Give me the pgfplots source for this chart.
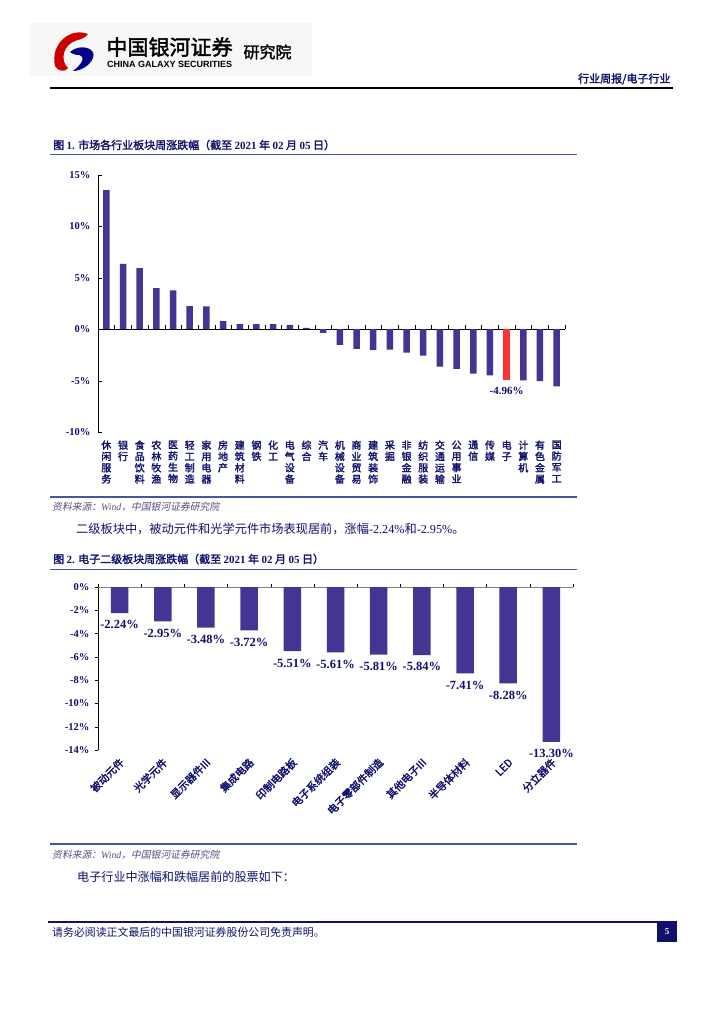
\documentclass[border=0pt]{standalone}
\usepackage{pgfplots}
\pgfplotsset{compat=1.18}
\usepackage{fontspec}
\usepackage{graphicx}
\setmainfont{Liberation Serif}
\newfontfamily\cjk{Noto Sans CJK SC}[AutoFakeBold=2,AutoFakeSlant=0.2]
\newfontfamily\hei{Liberation Sans}
\newcommand\la[1]{{\rmfamily #1}}
\definecolor{barblue}{RGB}{67,53,148}
\definecolor{barred}{RGB}{255,51,51}
\definecolor{navy}{RGB}{16,16,110}
\definecolor{rulec}{RGB}{70,85,165}
\definecolor{srcc}{RGB}{80,80,130}

\begin{document}
\begin{tikzpicture}
\begin{scope}[x=1pt,y=-1pt]
\path[use as bounding box] (0,0) rectangle (724,1024);
\fill[white] (0,0) rectangle (724,1024);

% header
\fill[gray!6] (30,23) rectangle (312,76);
\fill[red!80!black] (88,34) .. controls (70,27) and (50,44) .. (55,66)
  .. controls (58,72) and (66,72) .. (68,68)
  .. controls (60,61) and (62,44) .. (78,40)
  .. controls (82,39) and (86,37) .. (88,34);
\fill[blue!55!black] (70,52) .. controls (80,43) and (97,48) .. (93,58)
  .. controls (90,66) and (80,71) .. (73,71)
  .. controls (82,64) and (86,57) .. (79,55)
  .. controls (76,55) and (72,54) .. (70,52);
\node[anchor=west, font=\cjk\bfseries\fontsize{21}{21}\selectfont] at (103,47) {中国银河证券};
\node[anchor=west, inner sep=0] at (107,64) {\resizebox{125pt}{!}{\hei\bfseries CHINA GALAXY SECURITIES}};
\node[anchor=west, font=\cjk\bfseries\fontsize{16}{16}\selectfont] at (240,52) {研究院};
\node[anchor=east, font=\cjk\bfseries\fontsize{11}{11}\selectfont, text=navy] at (674,79) {行业周报/电子行业};
\draw[line width=1.5pt] (50,88) -- (673,88);

% figure 1 frame
\node[anchor=west, inner sep=0, font=\cjk\bfseries\fontsize{11}{11}\selectfont, text=navy] at (53,145)
  {图 \la{1.} 市场各行业板块周涨跌幅（截至 \la{2021} 年 \la{02} 月 \la{05} 日）};
\draw[rulec, line width=1.6pt] (50,154.5) -- (577,154.5);
\draw[rulec, line width=1.6pt] (50,497) -- (577,497);
\node[anchor=west, inner sep=0, font=\cjk\itshape\fontsize{9.8}{10}\selectfont, text=srcc] at (52,507)
  {资料来源：\la{Wind}，中国银河证券研究院};
\node[anchor=west, inner sep=0, font=\cjk\fontsize{12.2}{12.5}\selectfont, text=navy] at (76,529)
  {二级板块中，被动元件和光学元件市场表现居前，涨幅\la{-2.24\%}和\la{-2.95\%}。};

% figure 2 frame
\node[anchor=west, inner sep=0, font=\cjk\bfseries\fontsize{11}{11}\selectfont, text=navy] at (53,559)
  {图 \la{2.} 电子二级板块周涨跌幅（截至 \la{2021} 年 \la{02} 月 \la{05} 日）};
\draw[rulec, line width=1.6pt] (50,569.5) -- (577,569.5);
\draw[rulec, line width=1.6pt] (50,844) -- (577,844);
\node[anchor=west, inner sep=0, font=\cjk\itshape\fontsize{9.8}{10}\selectfont, text=srcc] at (52,855)
  {资料来源：\la{Wind}，中国银河证券研究院};
\node[anchor=west, inner sep=0, font=\cjk\fontsize{12.1}{12.5}\selectfont, text=navy] at (77,877)
  {电子行业中涨幅和跌幅居前的股票如下：};

% footer
\draw[navy, line width=1.5pt] (48,922) -- (677,922);
\node[anchor=west, inner sep=0, font=\cjk\fontsize{10.9}{11}\selectfont, text=navy] at (52,932)
  {请务必阅读正文最后的中国银河证券股份公司免责声明。};
\fill[navy] (657,922) rectangle (677,942);
\node[text=white, font=\bfseries\fontsize{9}{9}\selectfont] at (667,932) {5};
\end{scope}

% chart 1
\begin{axis}[
  at={(98pt,-432pt)}, anchor=south west,
  scale only axis, width=467pt, height=257pt,
  ymin=-10, ymax=15, xmin=-0.5, xmax=27.5,
  axis lines=left, axis line style={-, black},
  x axis line style={draw=none},
  ybar, bar width=6.5pt, bar shift=0pt,
  ytick={-10,-5,0,5,10,15},
  yticklabels={-10\%,-5\%,0\%,5\%,10\%,15\%},
  yticklabel style={font=\bfseries\fontsize{10.5}{12}\selectfont, text=navy, xshift=-4pt},
  tick align=inside, major tick length=4pt,
  ytick style={black},
  xtick={0,...,27},
  xticklabels={{休\\闲\\服\\务},{银\\行},{食\\品\\饮\\料},{农\\林\\牧\\渔},{医\\药\\生\\物},{轻\\工\\制\\造},{家\\用\\电\\器},{房\\地\\产},{建\\筑\\材\\料},{钢\\铁},{化\\工},{电\\气\\设\\备},{综\\合},{汽\\车},{机\\械\\设\\备},{商\\业\\贸\\易},{建\\筑\\装\\饰},{采\\掘},{非\\银\\金\\融},{纺\\织\\服\\装},{交\\通\\运\\输},{公\\用\\事\\业},{通\\信},{传\\媒},{电\\子},{计\\算\\机},{有\\色\\金\\属},{国\\防\\军\\工}},
  xticklabel style={anchor=north, align=center, font=\cjk\bfseries\fontsize{10}{11.3}\selectfont, text=navy, yshift=-5pt},
  x tick style={draw=none},
  clip=false,
]
\draw[black] (axis cs:-0.5,0) -- (axis cs:27.5,0);
\pgfplotsinvokeforeach{-0.5,0.5,...,27.5}{\draw[black] (axis cs:#1,0) -- ([yshift=4pt]axis cs:#1,0);}
\addplot[fill=barblue, draw=none] coordinates {
  (0,13.54) (1,6.36) (2,5.94) (3,3.99) (4,3.77) (5,2.24) (6,2.21) (7,0.78)
  (8,0.49) (9,0.49) (10,0.49) (11,0.42) (12,0.13) (13,-0.36) (14,-1.53)
  (15,-1.92) (16,-2.01) (17,-1.98) (18,-2.27) (19,-2.56) (20,-3.64)
  (21,-3.86) (22,-4.32) (23,-4.48) (25,-4.97) (26,-5.06) (27,-5.55)
};
\addplot[fill=barred, draw=none, nodes near coords={-4.96\%},
  every node near coord/.append style={font=\bfseries\fontsize{11}{12}\selectfont, text=navy, anchor=north, yshift=-3pt}]
  coordinates {(24,-4.96)};
\end{axis}

% chart 2
\begin{axis}[
  at={(98pt,-750pt)}, anchor=south west,
  scale only axis, width=475pt, height=163pt,
  ymin=-14, ymax=0, xmin=-0.5, xmax=10.5,
  axis lines=left, axis line style={-, black},
  x axis line style={draw=none},
  ybar, bar width=17.5pt, bar shift=0pt,
  ytick={-14,-12,...,0},
  yticklabels={-14\%,-12\%,-10\%,-8\%,-6\%,-4\%,-2\%,0\%},
  yticklabel style={font=\bfseries\fontsize{10.5}{12}\selectfont, text=navy, xshift=-2pt},
  tick align=outside, major tick length=3pt,
  ytick style={black},
  xtick={0,...,10},
  xticklabels={被动元件,光学元件,显示器件III,集成电路,印制电路板,电子系统组装,电子零部件制造,其他电子III,半导体材料,LED,分立器件},
  xticklabel style={rotate=45, anchor=east, font=\cjk\bfseries\fontsize{10.5}{11}\selectfont, text=navy, yshift=-7pt},
  x tick style={draw=none},
  clip=false,
  nodes near coords={\pgfmathprintnumber[fixed,fixed zerofill,precision=2,assume math mode=true]{\pgfplotspointmeta}\%},
  every node near coord/.append style={font=\bfseries\fontsize{12.5}{13}\selectfont, text=navy, anchor=north, yshift=-4pt},
]
\draw[gray] (axis cs:-0.5,0) -- (axis cs:10.5,0);
\pgfplotsinvokeforeach{-0.5,0.5,...,10.5}{\draw[black] (axis cs:#1,0) -- ([yshift=3pt]axis cs:#1,0);}
\addplot[fill=barblue, draw=none] coordinates {
  (0,-2.24) (1,-2.95) (2,-3.48) (3,-3.72) (4,-5.51) (5,-5.61)
  (6,-5.81) (7,-5.84) (8,-7.41) (9,-8.28) (10,-13.30)
};
\end{axis}
\end{tikzpicture}
\end{document}
